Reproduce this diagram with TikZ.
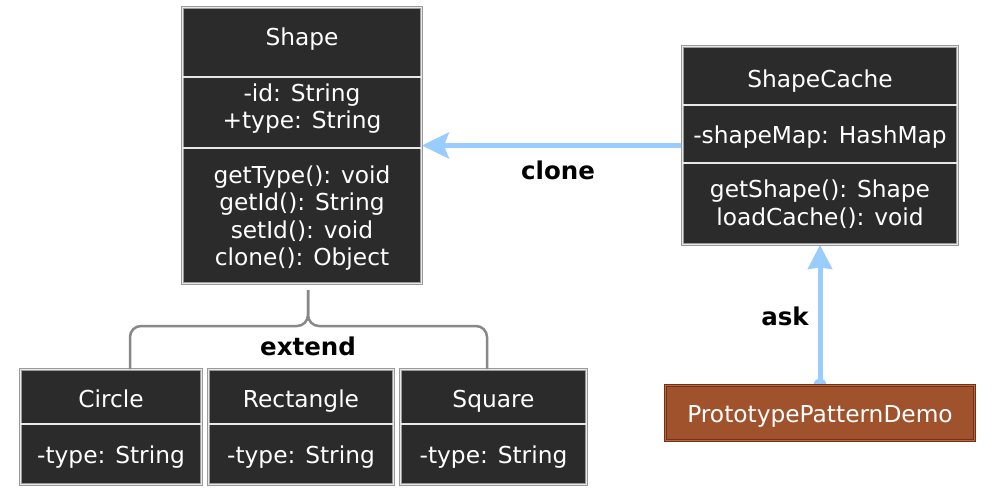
\documentclass[tikz,border=0pt]{standalone}
\usepackage{fontspec}
\setmainfont{DejaVu Sans}
\usetikzlibrary{arrows.meta,backgrounds}
\definecolor{boxfill}{HTML}{2B2B2B}
\definecolor{boxline}{HTML}{9A9A9A}
\definecolor{boxgap}{HTML}{E8E8E8}
\definecolor{arrowblue}{HTML}{99CCFF}
\definecolor{bracegray}{HTML}{888888}
\definecolor{demofill}{HTML}{A0522D}
\definecolor{demoline}{HTML}{7A2E12}
\begin{document}
\begin{tikzpicture}[x=1pt,y=-1pt,
  classbox/.style={draw=boxline, double=boxgap, double distance=1.2pt, line width=0.8pt, fill=boxfill, inner sep=0pt},
  democlass/.style={draw=demoline, double=demofill!85!white, double distance=1.2pt, line width=0.9pt, fill=demofill, inner sep=0pt},
  divider/.style={draw=boxline, double=boxgap, double distance=1.4pt, line width=0.6pt},
  txt/.style={text=white, font=\fontsize{23.3}{27.5}\selectfont, anchor=base, inner sep=0pt},
  lbl/.style={text=black, font=\fontsize{24.5}{28}\selectfont\bfseries, anchor=base, inner sep=0pt},
  flow/.style={draw=arrowblue, line width=5pt},
  cloneflow/.style={flow, -{Stealth[length=27pt,width=26pt,inset=5pt]}},
  askflow/.style={flow, -{Stealth[length=24pt,width=24pt,inset=1.5pt]}},
  brace/.style={draw=bracegray, line width=2.5pt, rounded corners=11pt}
]
\useasboundingbox (0,0) rectangle (1006,503);

% Shape class
\node[classbox, minimum width=239pt, minimum height=276pt] (shape) at (302,145.5) {};
\draw[divider] (183,77) -- (421,77);
\draw[divider] (183,148) -- (421,148);
\node[txt] (shapeT) at (302,46) {Shape};
\node[txt] (shapeA1) at (302,101) {-id: String};
\node[txt] (shapeA2) at (302,128) {+type: String};
\node[txt] (shapeM1) at (302,183) {getType(): void};
\node[txt] (shapeM2) at (302,210.5) {getId(): String};
\node[txt] (shapeM3) at (302,238) {setId(): void};
\node[txt] (shapeM4) at (302,265.5) {clone(): Object};

% ShapeCache class
\node[classbox, minimum width=275pt, minimum height=198pt] (cache) at (820,145.5) {};
\draw[divider] (683,105) -- (957,105);
\draw[divider] (683,163) -- (957,163);
\node[txt] (cacheT) at (820,88) {ShapeCache};
\node[txt] (cacheA1) at (820,143) {-shapeMap: HashMap};
\node[txt] (cacheM1) at (820,197) {getShape(): Shape};
\node[txt] (cacheM2) at (820,225) {loadCache(): void};

% Subclasses
\node[classbox, minimum width=181pt, minimum height=115pt] (circle) at (111,427) {};
\node[classbox, minimum width=185pt, minimum height=115pt] (rect) at (301,427) {};
\node[classbox, minimum width=186pt, minimum height=115pt] (square) at (493.5,427) {};
\draw[divider] (21,424) -- (201,424);
\draw[divider] (209,424) -- (393,424);
\draw[divider] (401,424) -- (586,424);
\node[txt] (circleT) at (111,407.5) {Circle};
\node[txt] (circleA) at (111,463.5) {-type: String};
\node[txt] (rectT) at (301,407.5) {Rectangle};
\node[txt] (rectA) at (301,463.5) {-type: String};
\node[txt] (squareT) at (493.5,407.5) {Square};
\node[txt] (squareA) at (493.5,463.5) {-type: String};

% Demo
\node[democlass, minimum width=309pt, minimum height=55pt] (demo) at (820,413) {};
\node[txt] (demoT) at (820,422.5) {PrototypePatternDemo};

% Connectors
\begin{scope}[on background layer]
\draw[cloneflow] (cache.west) -- (shape.east);
\draw[askflow] (demo.north) -- (cache.south);
\fill[arrowblue] (demo.north) circle (6.5pt);
\end{scope}

\coordinate (stemTop) at (308,290);
\coordinate (mid) at (308,326);
\coordinate (legL) at (130,326);
\coordinate (legR) at (487,326);
\draw[brace] (circle.north -| legL) -- (legL) -- (mid) -- (stemTop);
\draw[brace] (square.north -| legR) -- (legR) -- (mid) -- (stemTop);

% Labels
\node[lbl] (cloneL) at (558,179) {clone};
\node[lbl] (askL) at (785,325) {ask};
\node[lbl] (extendL) at (308,355) {extend};
\end{tikzpicture}
\end{document}
